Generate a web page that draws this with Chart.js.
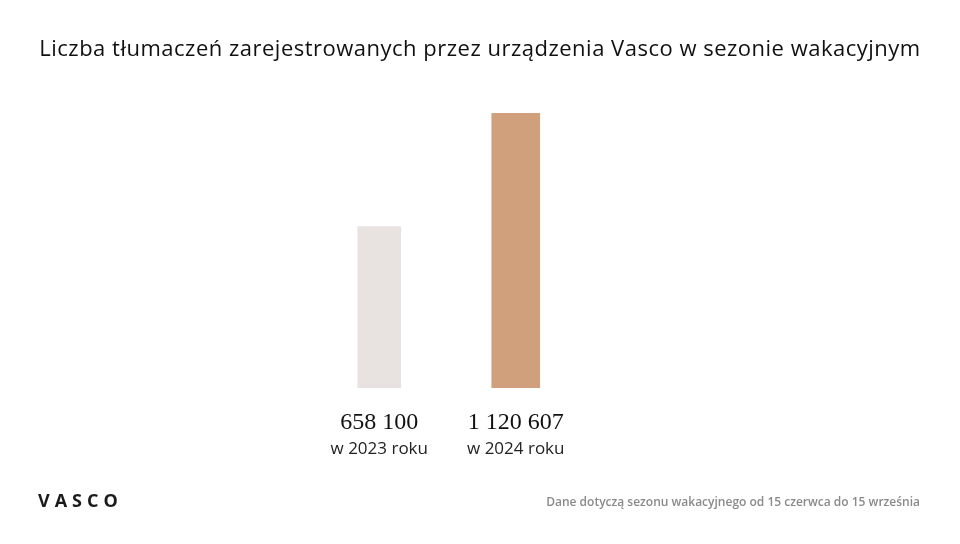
<!DOCTYPE html>
<html lang="pl">
<head>
<meta charset="utf-8">
<script src="https://cdn.jsdelivr.net/npm/chart.js@4.4.1/dist/chart.umd.min.js"></script>
<style>
  html, body { margin: 0; padding: 0; background: #ffffff; }
  #wrap { position: relative; width: 960px; height: 544px; }
  #title {
    position: absolute; left: 0; top: 33px; width: 960px; text-align: center;
    font-family: "Open Sans", sans-serif; font-size: 22px; color: #111111;
    letter-spacing: 0.5px; line-height: 28px;
  }
  #logo {
    position: absolute; left: 38px; top: 488px;
    font-family: "Open Sans", sans-serif; font-size: 18px; font-weight: 700;
    letter-spacing: 5px; color: #1a1a1a; line-height: 24px;
  }
  #note {
    position: absolute; right: 40px; top: 493px;
    font-family: "Open Sans", sans-serif; font-size: 12px; font-weight: 600;
    color: #8a8a8a; line-height: 18px;
  }
</style>
</head>
<body>
<div id="wrap">
  <canvas id="chart" width="960" height="544"></canvas>
  <div id="title"></div>
  <div id="logo">VASCO</div>
  <div id="note">Dane dotyczą sezonu wakacyjnego od 15 czerwca do 15 września</div>
</div>
<script>
var chartTitle = 'Liczba tłumaczeń zarejestrowanych przez urządzenia Vasco w sezonie wakacyjnym'
var years = ['2023', '2024']
var translations = [658100, 1120607]
var barColors = ['#e8e3e0', '#d09f7c']
var barWidths = [43, 48]

function formatNumber(n) {
    return String(n).replace(/\B(?=(\d{3})+(?!\d))/g, ' ');
}

var valueLabels = translations.map(formatNumber)
var yearLabels = years.map(y => 'w ' + y + ' roku')

document.getElementById('title').textContent = chartTitle

// one dataset per bar so each bar can have its own width
var datasets = translations.map((v, i) => {
    return {
        data: translations.map((x, j) => (j === i ? x : null)),
        backgroundColor: barColors[i],
        barThickness: barWidths[i],
        grouped: false,
        xAxisID: 'x'
    };
});

var ctx = document.getElementById('chart').getContext('2d');
var barChart = new Chart(ctx, {
    type: 'bar',
    data: {
        labels: valueLabels,
        datasets: datasets
    },
    options: {
        responsive: false,
        animation: false,
        events: [],
        layout: {
            padding: { left: 311, right: 376, top: 113, bottom: 84 }
        },
        scales: {
            x: {
                position: 'bottom',
                weight: 0,
                grid: { display: false, drawTicks: false },
                border: { display: false },
                afterFit: function (scale) { scale.height = 48; },
                ticks: {
                    padding: 20,
                    maxRotation: 0,
                    color: '#111111',
                    font: { family: '"Liberation Serif", serif', size: 24 }
                }
            },
            x2: {
                type: 'category',
                position: 'bottom',
                weight: 1,
                labels: yearLabels,
                offset: true,
                grid: { display: false, drawTicks: false },
                border: { display: false },
                afterFit: function (scale) { scale.height = 24; },
                ticks: {
                    padding: 3,
                    maxRotation: 0,
                    color: '#222222',
                    font: { family: '"Open Sans", sans-serif', size: 17 }
                }
            },
            y: {
                display: false,
                min: 0,
                max: Math.max(...translations)
            }
        },
        plugins: {
            legend: { display: false },
            tooltip: { enabled: false },
            title: { display: false }
        }
    }
});
</script>
</body>
</html>
